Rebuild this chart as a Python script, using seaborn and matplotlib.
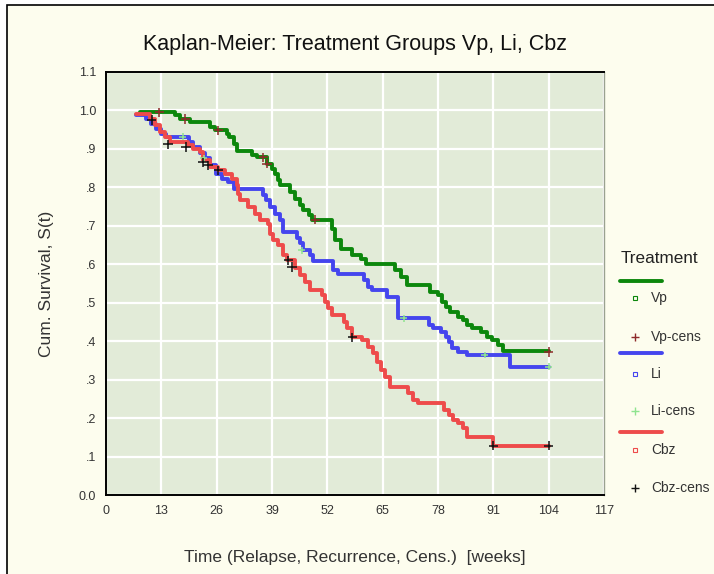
import matplotlib
matplotlib.use("Agg")
import matplotlib.pyplot as plt
from matplotlib.lines import Line2D
from matplotlib.patches import Rectangle
import pandas as pd
import seaborn as sns

# step curves (weeks, cumulative survival)
vp_time = [8, 16.2, 17.5, 19.8, 24.5, 25.6, 28.4, 28.8, 30, 30.8,
           34.3, 35.5, 37.8, 39, 39.8, 40.5, 40.9, 43.3, 44.5, 45.6,
           46.4, 47.6, 48.5, 53.2, 53.9, 55.1, 57.9, 59.8, 61, 68,
           69.2, 70.8, 76.2, 77.9, 79, 79.8, 80.9, 82.6, 83.8, 84.9,
           86.1, 88, 89.6, 90.8, 92, 93.2, 104]
vp_surv = [0.995, 0.987, 0.978, 0.969, 0.957, 0.948, 0.939, 0.931, 0.913, 0.895,
           0.883, 0.878, 0.862, 0.849, 0.836, 0.818, 0.805, 0.788, 0.771, 0.753,
           0.740, 0.727, 0.716, 0.693, 0.662, 0.641, 0.623, 0.615, 0.602, 0.584,
           0.567, 0.545, 0.528, 0.519, 0.502, 0.489, 0.476, 0.463, 0.455, 0.442,
           0.433, 0.424, 0.411, 0.403, 0.390, 0.375, 0.375]

li_time = [7, 9.5, 10.5, 11.7, 13, 14.2, 19.5, 20.5, 22, 23.3,
           24.5, 25.8, 27.3, 28.7, 30, 37, 37.6, 38.6, 39.8, 40.9,
           41.5, 44.9, 45.6, 46.4, 48, 48.7, 53.4, 54.4, 60.5, 61.6,
           62.6, 66.1, 68.7, 75.8, 76.9, 78.6, 79.8, 80.5, 81.4, 82.8,
           84.9, 95, 104]
li_surv = [0.987, 0.977, 0.965, 0.952, 0.940, 0.932, 0.917, 0.905, 0.890, 0.876,
           0.857, 0.836, 0.823, 0.813, 0.795, 0.780, 0.766, 0.748, 0.732, 0.714,
           0.684, 0.668, 0.655, 0.636, 0.623, 0.609, 0.584, 0.574, 0.558, 0.541,
           0.532, 0.515, 0.460, 0.442, 0.434, 0.424, 0.411, 0.398, 0.382, 0.371,
           0.364, 0.333, 0.333]

cbz_time = [7, 10.4, 11.5, 12.7, 13.9, 15, 19.3, 20.5, 22.1, 22.8,
            24.5, 26.4, 28, 29.6, 30.8, 31.1, 31.5, 33.4, 35, 36.2,
            38.1, 38.6, 39.3, 40.5, 41.6, 42.5, 44.5, 45.6, 46.8, 48,
            50.8, 51.5, 52.2, 53.2, 55.8, 56.7, 57.9, 60.2, 61.6, 62.8,
            63.7, 64.5, 65.6, 66.8, 71, 72.2, 73.2, 79.3, 80.5, 81.6,
            82.8, 83.8, 84.9, 91, 104]
cbz_surv = [0.991, 0.978, 0.961, 0.944, 0.931, 0.918, 0.909, 0.900, 0.892, 0.870,
            0.853, 0.844, 0.836, 0.823, 0.805, 0.784, 0.766, 0.749, 0.732, 0.714,
            0.706, 0.680, 0.662, 0.649, 0.623, 0.610, 0.590, 0.571, 0.554, 0.532,
            0.519, 0.502, 0.485, 0.468, 0.450, 0.433, 0.411, 0.403, 0.385, 0.368,
            0.346, 0.325, 0.307, 0.281, 0.264, 0.247, 0.238, 0.221, 0.208, 0.195,
            0.186, 0.173, 0.151, 0.128, 0.128]

# censored cases
vp_cens_time = [12.5, 18.6, 26.4, 37, 37.8, 49.2, 104]
vp_cens_surv = [0.995, 0.978, 0.948, 0.878, 0.862, 0.716, 0.372]
li_cens_time = [18, 23, 46, 70, 89, 104]
li_cens_surv = [0.932, 0.876, 0.636, 0.460, 0.364, 0.333]
cbz_cens_time = [10.7, 14.6, 18.8, 22.8, 24, 26.4, 42.8, 43.7, 57.9, 91, 104]
cbz_cens_surv = [0.975, 0.912, 0.905, 0.865, 0.857, 0.844, 0.610, 0.593, 0.410, 0.128, 0.128]

groups = ["Vp", "Li", "Cbz"]
x_ticks = [0, 13, 26, 39, 52, 65, 78, 91, 104, 117]
y_ticks = [0.0, 0.1, 0.2, 0.3, 0.4, 0.5, 0.6, 0.7, 0.8, 0.9, 1.0, 1.1]
y_ticklabels = ["0.0", ".1", ".2", ".3", ".4", ".5", ".6", ".7", ".8", ".9", "1.0", "1.1"]

line_colors = {"Vp": "#0c870c", "Li": "#4545ee", "Cbz": "#ee4b4b"}
cens_colors = {"Vp": "#8e2a2a", "Li": "#8fe48f", "Cbz": "#111111"}
cens_sizes = {"Vp": 45, "Li": 25, "Cbz": 45}

curves = pd.concat([
    pd.DataFrame({"time": vp_time, "surv": vp_surv, "group": "Vp"}),
    pd.DataFrame({"time": li_time, "surv": li_surv, "group": "Li"}),
    pd.DataFrame({"time": cbz_time, "surv": cbz_surv, "group": "Cbz"}),
])
cens = pd.concat([
    pd.DataFrame({"time": vp_cens_time, "surv": vp_cens_surv, "group": "Vp"}),
    pd.DataFrame({"time": li_cens_time, "surv": li_cens_surv, "group": "Li"}),
    pd.DataFrame({"time": cbz_cens_time, "surv": cbz_cens_surv, "group": "Cbz"}),
])

sns.set_style("white", {"axes.facecolor": "#e2ebd8"})
plt.rcParams["font.family"] = ["Liberation Sans", "DejaVu Sans"]

W, H = 714, 574
fig = plt.figure(figsize=(W / 100, H / 100), dpi=100, facecolor="white")
# cream panel with thin black frame, like the original export
fig.add_artist(Rectangle((7 / W, -0.05), 1.1, 1 - 5 / H + 0.05, transform=fig.transFigure,
                         facecolor="#fdfdee", edgecolor="black", lw=1.2, zorder=0))

ax = fig.add_axes([106 / W, 1 - 495 / H, 498 / W, 423 / H])

sns.lineplot(data=curves, x="time", y="surv", hue="group", hue_order=groups,
             palette=line_colors, drawstyle="steps-post", linewidth=2.8,
             estimator=None, sort=False, legend=False, ax=ax, zorder=3)
sns.scatterplot(data=cens, x="time", y="surv", hue="group", hue_order=groups,
                size="group", sizes=cens_sizes, palette=cens_colors, marker="+",
                linewidth=1.1, legend=False, ax=ax, zorder=4)

ax.set_xlim(0, 117)
ax.set_ylim(0, 1.1)
ax.set_xticks(x_ticks)
ax.set_yticks(y_ticks)
ax.set_yticklabels(y_ticklabels)
ax.grid(True, color="white", lw=1.6)
ax.set_axisbelow(True)
ax.tick_params(axis="both", direction="inout", length=4, width=3, color="black",
               labelsize=9, labelcolor="#333333", pad=5)
for side in ["left", "bottom", "top"]:
    ax.spines[side].set_color("black")
    ax.spines[side].set_linewidth(1.4)
ax.spines["right"].set_color("#9aa290")
ax.spines["right"].set_linewidth(1.0)

ax.set_title("Kaplan-Meier: Treatment Groups Vp, Li, Cbz", fontsize=15.5, pad=16, color="#111111")
ax.set_xlabel("Time (Relapse, Recurrence, Cens.)  [weeks]", fontsize=12.5, labelpad=24, color="#333333")
ax.set_ylabel("Cum. Survival, S(t)", fontsize=12.5, labelpad=18, color="#333333")

# legend drawn beside the plot
def fx(px):
    return px / W

def fy(py):
    return 1 - py / H

fig.text(fx(621), fy(258), "Treatment", fontsize=12.3, va="center", ha="left", color="#222222")
rows = [(281, 298, 337), (353, 374, 411), (432, 450, 488)]
for g, (ly, sy, cy) in zip(groups, rows):
    fig.add_artist(Line2D([fx(620), fx(662)], [fy(ly), fy(ly)], color=line_colors[g], lw=2.8,
                          transform=fig.transFigure))
    fig.add_artist(Line2D([fx(635)], [fy(sy)], marker="s", markersize=3.5, mfc="none",
                          mec=line_colors[g], mew=0.8, ls="none", transform=fig.transFigure))
    fig.text(fx(651), fy(sy), g, fontsize=10, va="center", ha="left", color="#333333")
    fig.add_artist(Line2D([fx(635)], [fy(cy)], marker="+", markersize=6,
                          mec=cens_colors[g], mew=1.0, ls="none", transform=fig.transFigure))
    fig.text(fx(651), fy(cy), g + "-cens", fontsize=10, va="center", ha="left", color="#333333")

fig.savefig("out.png", dpi=100, facecolor=fig.get_facecolor())
